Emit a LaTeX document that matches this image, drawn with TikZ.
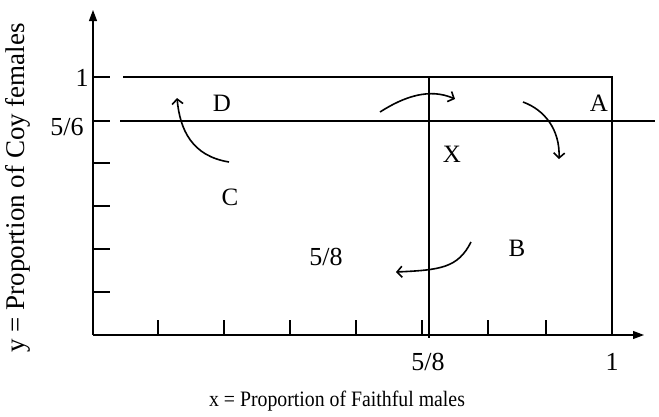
\documentclass[tikz,border=0pt]{standalone}
\usepackage{fontspec}
\setmainfont{Liberation Serif}
\newfontfamily\condfont[FakeStretch=0.9]{Liberation Serif}
\usetikzlibrary{arrows.meta}
\begin{document}
\begin{tikzpicture}[x=1pt,y=-1pt,
  axis/.style={line width=1.1pt,-{Triangle[length=11pt,width=8pt]}},
  bound/.style={line width=1.8pt},
  tick/.style={line width=1.6pt},
  flow/.style={line width=1.6pt,-{Straight Barb[length=5pt,width=11pt,line width=1.6pt]}},
  lab/.style={inner sep=0pt,font=\fontsize{25}{27}\selectfont},
  num/.style={inner sep=0pt,font=\fontsize{26}{28}\selectfont}]
\useasboundingbox (0,0) rectangle (659,416);
% axes
\coordinate (O) at (93,335);
\coordinate (ytop) at (93,10);
\coordinate (xend) at (644,335);
\draw[axis] (O) -- (ytop);
\draw[axis] (O) -- (xend);
% boundary lines
\coordinate (t1a) at (123,77);
\coordinate (t1b) at (612,77);
\coordinate (b1) at (612,335);
\coordinate (s6a) at (120,121);
\coordinate (s6b) at (655,121);
\coordinate (v8a) at (429,77);
\coordinate (v8b) at (429,338);
\draw[bound] (t1a) -- (t1b) -- (b1);
\draw[bound] (s6a) -- (s6b);
\draw[bound] (v8a) -- (v8b);
% y ticks
\foreach \y in {77,121,163,206,249,292}
  \draw[tick] (93,\y) -- (110,\y);
% x ticks
\foreach \x in {158,224,290,356,422,488,546,612}
  \draw[tick] (\x,335) -- (\x,320);
% tick labels
\node[num] (ly1) at (82,78) {1};
\node[num] (ly56) at (67,127) {5/6};
\node[num] (lx58) at (428,362) {5/8};
\node[num] (lx1) at (612,362) {1};
% region labels
\node[lab] (A) at (599,103) {A};
\node[lab] (B) at (517,248) {B};
\node[lab] (C) at (230,197) {C};
\node[lab] (D) at (222,103) {D};
\node[lab] (X) at (452,154) {X};
\node[num] (m58) at (326,257) {5/8};
% flow arrows
\coordinate (cs) at (229,162);
\coordinate (ce) at (177,98);
\draw[flow] (cs) .. controls (192,156) and (180,130) .. (ce);
\coordinate (xs) at (380,112);
\coordinate (xe) at (455,99);
\draw[flow] (xs) .. controls (405,96) and (430,88) .. (xe);
\coordinate (as) at (523,102);
\coordinate (ae) at (559,159);
\draw[flow] (as) .. controls (545,110) and (560,130) .. (ae);
\coordinate (bs) at (471,242);
\coordinate (be) at (396,272);
\draw[flow] (bs) .. controls (458,268) and (440,270) .. (be);
% axis titles
\node[inner sep=0pt,font=\condfont\fontsize{22}{24}\selectfont] (xt) at (337,401) {x = Proportion of Faithful males};
\node[inner sep=0pt,rotate=90,font=\fontsize{27}{29}\selectfont] (yt) at (18,188) {y = Proportion of Coy females};
\end{tikzpicture}
\end{document}
